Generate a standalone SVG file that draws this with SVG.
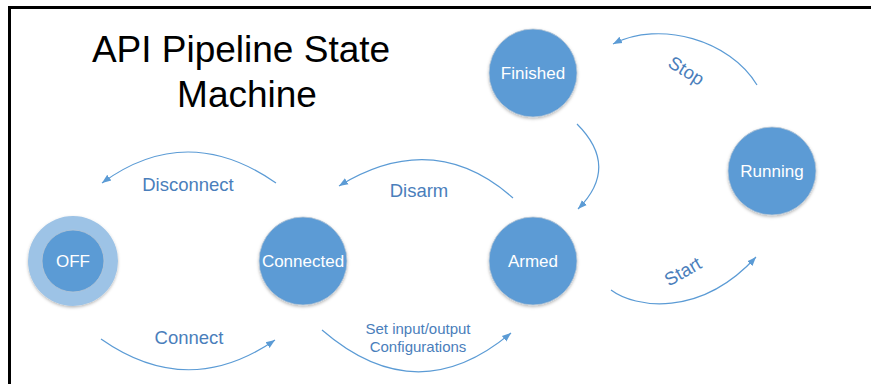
<svg xmlns="http://www.w3.org/2000/svg" width="871" height="384" viewBox="0 0 871 384">
<defs>
<marker id="arr" markerUnits="userSpaceOnUse" markerWidth="10" markerHeight="10" viewBox="0 0 10 10" refX="9" refY="5" orient="auto">
<path d="M0,1.5 L9,5 L0,8.5 Z" fill="#5B9BD5"/>
</marker>
<filter id="sh" x="-20%" y="-20%" width="140%" height="150%">
<feDropShadow dx="0" dy="1.5" stdDeviation="1.5" flood-color="#000" flood-opacity="0.28"/>
</filter>
</defs>
<style>
.node{fill:#5B9BD5;stroke:#B8C7D6;stroke-width:0.8;filter:url(#sh)}
.nl{font-family:"Liberation Sans",Arial,sans-serif;font-size:17px;fill:#FFFFFF;text-anchor:middle}
.edge{fill:none;stroke:#5B9BD5;stroke-width:1.2;marker-end:url(#arr)}
.el{font-family:"Liberation Sans",Arial,sans-serif;font-size:18.5px;fill:#4A7EBB;text-anchor:middle}
.el2{font-family:"Liberation Sans",Arial,sans-serif;font-size:15px;fill:#4A7EBB;text-anchor:middle}
.title{font-family:"Liberation Sans",Arial,sans-serif;font-size:37px;fill:#000;text-anchor:middle}
</style>
<rect width="871" height="384" fill="#FFFFFF"/>
<path d="M9.5,384 L9.5,7.5 L871,7.5" fill="none" stroke="#000" stroke-width="3"/>
<g id="title">
<text class="title" x="241" y="62">API Pipeline State</text>
<text class="title" x="247" y="107">Machine</text>
</g>
<g id="connectors">
<path class="edge" d="M276,183 Q187,121 102,183"/>
<path class="edge" d="M101,339 Q188,400 275,340"/>
<path class="edge" d="M513,198 Q434,128 339,186"/>
<path class="edge" d="M322,330 Q417,412 511,333"/>
<path class="edge" d="M577,124 Q620,167 578,209"/>
<path class="edge" d="M757,85 C730,40 660,20 613,44"/>
<path class="edge" d="M611,290 C635,308 700,318 756,257"/>
<text class="el" x="188" y="191">Disconnect</text>
<text class="el" x="189" y="344">Connect</text>
<text class="el" x="419" y="197">Disarm</text>
<text class="el2" x="418" y="334">Set input/output</text>
<text class="el2" x="418" y="352">Configurations</text>
<text class="el" x="0" y="0" transform="translate(683,76) rotate(32)">Stop</text>
<text class="el" x="0" y="0" transform="translate(686,277) rotate(-30)">Start</text>
</g>
<g id="off">
<circle cx="73" cy="261" r="45" fill="#9DC3E6" filter="url(#sh)"/>
<circle cx="73" cy="261" r="31" fill="#5B9BD5" stroke="#B8C7D6" stroke-width="0.8"/>
<text class="nl" x="73" y="267">OFF</text>
</g>
<g id="connected">
<circle class="node" cx="303" cy="261" r="44"/>
<text class="nl" x="303" y="267">Connected</text>
</g>
<g id="armed">
<circle class="node" cx="533" cy="261" r="44"/>
<text class="nl" x="533" y="267">Armed</text>
</g>
<g id="finished">
<circle class="node" cx="533" cy="73" r="44"/>
<text class="nl" x="533" y="79">Finished</text>
</g>
<g id="running">
<circle class="node" cx="772" cy="171" r="44"/>
<text class="nl" x="772" y="177">Running</text>
</g>
</svg>
